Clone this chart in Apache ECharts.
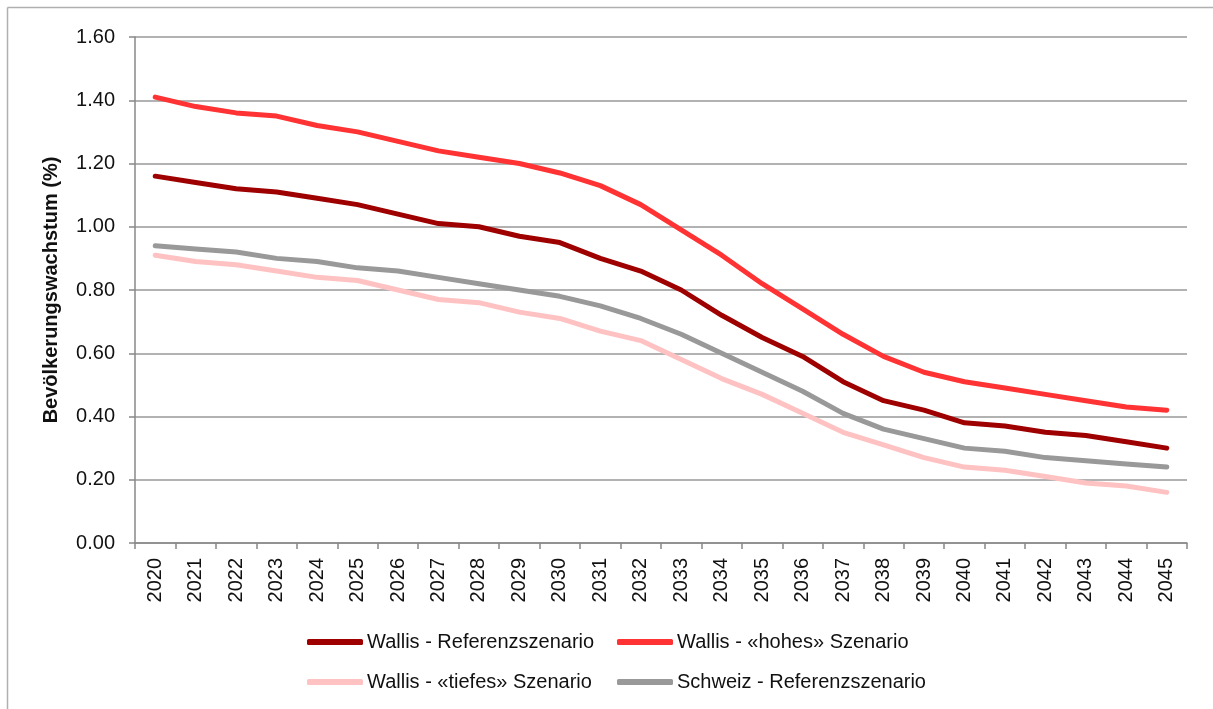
<!DOCTYPE html>
<html>
<head>
<meta charset="utf-8">
<script src="https://cdn.jsdelivr.net/npm/echarts@6/dist/echarts.min.js"></script>
<style>
  html, body { margin: 0; padding: 0; background: #fff; }
  #chart { width: 1213px; height: 709px; }
</style>
</head>
<body>
<div id="chart"></div>
<script>
const years = [];
for (let y = 2020; y <= 2045; y++) years.push(String(y));

const wallisRef = [1.16, 1.14, 1.12, 1.11, 1.09, 1.07, 1.04, 1.01, 1.00, 0.97, 0.95, 0.90, 0.86, 0.80, 0.72, 0.65, 0.59, 0.51, 0.45, 0.42, 0.38, 0.37, 0.35, 0.34, 0.32, 0.30];
const wallisHoch = [1.41, 1.38, 1.36, 1.35, 1.32, 1.30, 1.27, 1.24, 1.22, 1.20, 1.17, 1.13, 1.07, 0.99, 0.91, 0.82, 0.74, 0.66, 0.59, 0.54, 0.51, 0.49, 0.47, 0.45, 0.43, 0.42];
const wallisTief = [0.91, 0.89, 0.88, 0.86, 0.84, 0.83, 0.80, 0.77, 0.76, 0.73, 0.71, 0.67, 0.64, 0.58, 0.52, 0.47, 0.41, 0.35, 0.31, 0.27, 0.24, 0.23, 0.21, 0.19, 0.18, 0.16];
const schweizRef = [0.94, 0.93, 0.92, 0.90, 0.89, 0.87, 0.86, 0.84, 0.82, 0.80, 0.78, 0.75, 0.71, 0.66, 0.60, 0.54, 0.48, 0.41, 0.36, 0.33, 0.30, 0.29, 0.27, 0.26, 0.25, 0.24];

const names = [
  "Wallis - Referenzszenario",
  "Wallis - «hohes» Szenario",
  "Wallis - «tiefes» Szenario",
  "Schweiz - Referenzszenario",
];
const colors = ["#9e0000", "#ff3333", "#ffc2c2", "#999999"];

const font = "Liberation Sans, Arial, sans-serif";

const makeSeries = (name, data, color, z) => ({
  name,
  type: "line",
  data,
  color,
  z,
  symbol: "none",
  lineStyle: { width: 5, color, cap: "round", join: "round" },
});

const legendAt = (name, left, top) => ({
  data: [name],
  left,
  top,
  padding: 0,
  icon: "roundRect",
  itemWidth: 56,
  itemHeight: 6,
  itemGap: 0,
  textStyle: { fontFamily: font, fontSize: 20, color: "#111", padding: [0, 0, 0, -1] },
});

const chart = echarts.init(document.getElementById("chart"));
chart.setOption({
  animation: false,
  backgroundColor: "#fff",
  textStyle: { fontFamily: font },
  graphic: [
    { type: "line", shape: { x1: 7.5, y1: 7.5, x2: 1213, y2: 7.5 }, style: { stroke: "#b0b0b0", lineWidth: 1.5 } },
    { type: "line", shape: { x1: 7.5, y1: 7.5, x2: 7.5, y2: 709 }, style: { stroke: "#b0b0b0", lineWidth: 1.5 } },
  ],
  grid: { left: 135, right: 26, top: 37, bottom: 166, containLabel: false },
  legend: [
    legendAt(names[0], 307, 632),
    legendAt(names[1], 617, 632),
    legendAt(names[2], 307, 672),
    legendAt(names[3], 617, 672),
  ],
  xAxis: {
    type: "category",
    data: years,
    boundaryGap: true,
    axisLine: { lineStyle: { color: "#888", width: 1.5 } },
    axisTick: { show: true, length: 6, alignWithLabel: false, lineStyle: { color: "#888", width: 1.5 } },
    axisLabel: { rotate: 90, fontSize: 20, color: "#111", margin: 15, interval: 0, fontFamily: font },
  },
  yAxis: {
    type: "value",
    min: 0,
    max: 1.6,
    interval: 0.2,
    name: "Bevölkerungswachstum (%)",
    nameLocation: "middle",
    nameGap: 74,
    nameTextStyle: { fontSize: 20, fontWeight: "bold", color: "#111", fontFamily: font },
    axisLine: { show: true, lineStyle: { color: "#888", width: 1.5 } },
    axisTick: { show: true, length: 6, lineStyle: { color: "#888", width: 1.5 } },
    axisLabel: { fontSize: 20, color: "#111", margin: 20, fontFamily: font, formatter: (v) => v.toFixed(2) },
    splitLine: { lineStyle: { color: "#999", width: 1.5 } },
  },
  series: [
    makeSeries(names[0], wallisRef, colors[0], 4),
    makeSeries(names[1], wallisHoch, colors[1], 3),
    makeSeries(names[2], wallisTief, colors[2], 1),
    makeSeries(names[3], schweizRef, colors[3], 2),
  ],
});
</script>
</body>
</html>
